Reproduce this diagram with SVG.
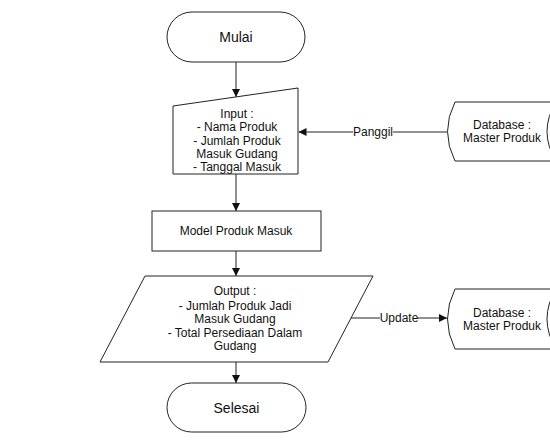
<svg xmlns="http://www.w3.org/2000/svg" width="550" height="441" viewBox="0 0 550 441">
<defs>
<style>
.s{fill:#fff;stroke:#222;stroke-width:1}
.c{fill:none;stroke:#222;stroke-width:1}
text{font-family:"Liberation Sans",Arial,sans-serif;font-size:12px;fill:#111;text-anchor:middle}
.big{font-size:14px}
.lb{fill:#fff;stroke:none}
</style>
<marker id="ah" viewBox="0 0 10 10" refX="10" refY="5" markerWidth="8" markerHeight="8" markerUnits="userSpaceOnUse" orient="auto">
<path d="M0,0 L10,5 L0,10 Z" fill="#111"/>
</marker>
</defs>
<rect width="550" height="441" fill="#fff"/>
<g id="connectors">
<line class="c" x1="236" y1="62" x2="236" y2="97" marker-end="url(#ah)"/>
<line class="c" x1="236" y1="174" x2="236" y2="211" marker-end="url(#ah)"/>
<line class="c" x1="236" y1="251" x2="236" y2="276" marker-end="url(#ah)"/>
<line class="c" x1="236" y1="362" x2="236" y2="383" marker-end="url(#ah)"/>
<line class="c" x1="447" y1="132" x2="298.5" y2="132" marker-end="url(#ah)"/>
<rect class="lb" x="353" y="125" width="40" height="14"/>
<text x="373" y="136">Panggil</text>
<line class="c" x1="351" y1="318" x2="447" y2="318" marker-end="url(#ah)"/>
<rect class="lb" x="380" y="311" width="38" height="14"/>
<text x="399" y="322">Update</text>
</g>
<g id="mulai">
<rect class="s" x="167" y="12" width="138" height="50" rx="25" ry="25"/>
<text class="big" x="236" y="42">Mulai</text>
</g>
<g id="input">
<path class="s" d="M173,106 L298,88 L298,174 L173,174 Z"/>
<text x="237" y="118">Input :</text>
<text x="237" y="131">- Nama Produk</text>
<text x="237" y="145">- Jumlah Produk</text>
<text x="237" y="158">Masuk Gudang</text>
<text x="237" y="171">- Tanggal Masuk</text>
</g>
<g id="model">
<rect class="s" x="152" y="211" width="169" height="40"/>
<text x="236" y="235">Model Produk Masuk</text>
</g>
<g id="output">
<path class="s" d="M145,276 L373,276 L328,362 L100,362 Z"/>
<text x="235" y="295">Output :</text>
<text x="235" y="310">- Jumlah Produk Jadi</text>
<text x="235" y="323">Masuk Gudang</text>
<text x="235" y="337">- Total Persediaan Dalam</text>
<text x="235" y="350">Gudang</text>
</g>
<g id="selesai">
<rect class="s" x="167" y="383" width="139" height="49" rx="24.5" ry="24.5"/>
<text class="big" x="236.5" y="413">Selesai</text>
</g>
<g id="db1">
<path class="s" d="M455,102 L556,102 Q538,131.5 556,161 L455,161 Q440,131.5 455,102 Z"/>
<text x="502" y="129">Database :</text>
<text x="502" y="142">Master Produk</text>
</g>
<g id="db2">
<path class="s" d="M455,289 L556,289 Q538,319 556,349 L455,349 Q440,319 455,289 Z"/>
<text x="502" y="317">Database :</text>
<text x="502" y="330">Master Produk</text>
</g>
</svg>
